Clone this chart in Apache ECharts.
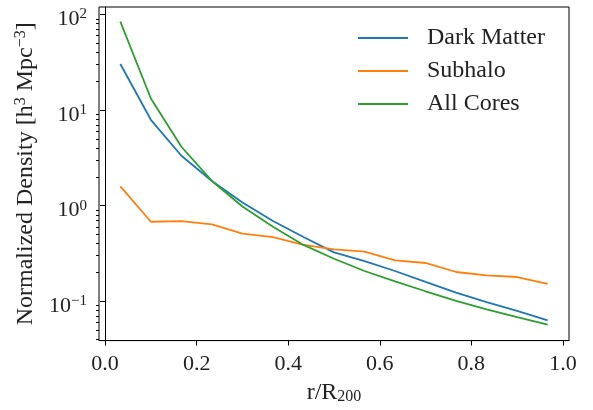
<!DOCTYPE html>
<html>
<head>
<meta charset="utf-8">
<script src="https://cdn.jsdelivr.net/npm/echarts@6/dist/echarts.min.js"></script>
<style>
html,body{margin:0;padding:0;background:#fff;}
#chart{width:593px;height:410px;}
</style>
</head>
<body>
<div id="chart"></div>
<script>
var radius = [0.0333, 0.1, 0.1667, 0.2333, 0.3, 0.3667, 0.4333, 0.5, 0.5667, 0.6333, 0.7, 0.7667, 0.8333, 0.9, 0.9667];
var darkMatter = [30.3, 7.9, 3.32, 1.81, 1.08, 0.69, 0.47, 0.324, 0.263, 0.207, 0.159, 0.123, 0.098, 0.079, 0.063];
var subhalo = [1.59, 0.678, 0.689, 0.637, 0.509, 0.468, 0.388, 0.348, 0.33, 0.267, 0.251, 0.202, 0.186, 0.179, 0.152];
var allCores = [84, 13.2, 4.13, 1.81, 0.98, 0.60, 0.388, 0.278, 0.207, 0.161, 0.127, 0.101, 0.082, 0.068, 0.057];
var seriesNames = ['Dark Matter', 'Subhalo', 'All Cores'];
var xTicks = [0, 0.2, 0.4, 0.6, 0.8, 1.0];
var yTicks = [0.1, 1, 10, 100];
var yTickExp = {'0.1': '\u22121', '1': '0', '10': '1', '100': '2'};

var FONT = 'Liberation Serif';
var yMin = 0.0387, yMax = 119.6;
var minorY = [];
[0.01, 0.1, 1, 10].forEach(function (d) {
  for (var k = 2; k <= 9; k++) {
    var v = +(k * d).toPrecision(3);
    if (v > yMin && v < yMax) minorY.push(v);
  }
});
function pairs(ys) { return radius.map(function (x, i) { return [x, ys[i]]; }); }
var colors = ['#1f77b4', '#ff7f0e', '#2ca02c'];
var chart = echarts.init(document.getElementById('chart'), null, {renderer: 'canvas'});
chart.setOption({
  animation: false,
  backgroundColor: '#fff',
  grid: {left: 99, right: 24, top: 7, bottom: 57.5, show: true, borderColor: '#000', borderWidth: 1, backgroundColor: 'transparent'},
  legend: {
    orient: 'vertical', left: 353, top: 21, itemWidth: 50, itemHeight: 2, itemGap: 9, icon: 'rect',
    data: seriesNames,
    textStyle: {fontFamily: FONT, fontSize: 24, color: '#222', padding: [0, 0, 0, 14], lineHeight: 24}
  },
  xAxis: {
    type: 'value', min: -0.0133, max: 1.0133,
    name: '{a|r/R}{s|200}', nameLocation: 'middle', nameGap: 34,
    nameTextStyle: {rich: {a: {fontFamily: FONT, fontSize: 24, color: '#222'}, s: {fontFamily: FONT, fontSize: 16, color: '#222', padding: [9, 0, 0, 0]}}},
    axisLine: {lineStyle: {color: '#000', width: 1}},
    axisTick: {show: true, length: 5, lineStyle: {color: '#000'}, customValues: xTicks},
    axisLabel: {customValues: xTicks, margin: 13, fontFamily: FONT, fontSize: 22, color: '#222', formatter: function (v) { return v.toFixed(1); }},
    splitLine: {show: false}
  },
  yAxis: [{
    type: 'log', logBase: 10, min: yMin, max: yMax,
    name: '{a|Normalized Density [h}{s|3}{a| Mpc}{s|\u22123}{a|]}', nameLocation: 'middle', nameGap: 57,
    nameTextStyle: {rich: {a: {fontFamily: FONT, fontSize: 24, color: '#222'}, s: {fontFamily: FONT, fontSize: 16, color: '#222', padding: [0, 0, 11, 0]}}},
    axisLine: {show: true, lineStyle: {color: '#000', width: 1}},
    axisTick: {show: true, length: 5, lineStyle: {color: '#000'}, customValues: yTicks},
    axisLabel: {
      customValues: yTicks, margin: 12, padding: [10, 0, 0, 0],
      formatter: function (v) {
        var key = String(+v.toPrecision(3));
        return '{b|10}{s|' + yTickExp[key] + '}';
      },
      rich: {b: {fontFamily: FONT, fontSize: 22, color: '#222'}, s: {fontFamily: FONT, fontSize: 15, color: '#222', padding: [0, 0, 10, 0]}}
    },
    splitLine: {show: false}
  }, {
    type: 'log', logBase: 10, min: yMin, max: yMax, position: 'left',
    axisLine: {show: false},
    axisTick: {show: true, length: 3, lineStyle: {color: '#000'}, customValues: minorY},
    axisLabel: {show: false},
    splitLine: {show: false}
  }],
  series: seriesNames.map(function (n, i) {
    return {
      name: n, type: 'line', data: pairs([darkMatter, subhalo, allCores][i]),
      showSymbol: false, symbol: 'none', color: colors[i],
      lineStyle: {width: 1.8, color: colors[i]}
    };
  })
});
</script>
</body>
</html>
